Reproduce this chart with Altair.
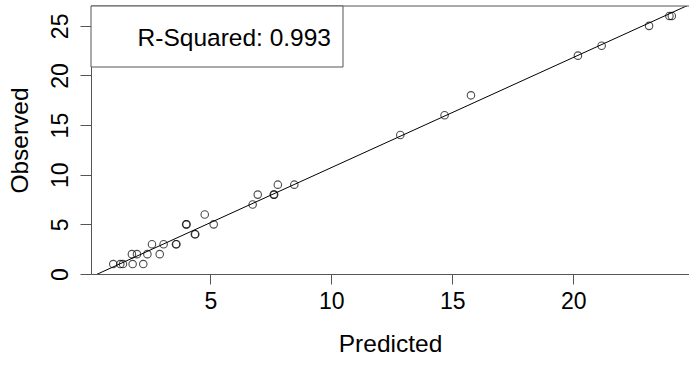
import altair as alt
import pandas as pd

# Data
predicted = [0.99, 1.28, 1.39, 1.79, 2.23,
             1.76, 1.97, 2.40, 2.91,
             2.59, 3.07, 3.58, 3.60,
             4.36, 4.38,
             4.00, 4.02, 5.14,
             4.77,
             6.75,
             6.96, 7.62, 7.64,
             7.79, 8.47,
             12.85, 14.68, 15.77, 20.19, 21.17, 23.13, 23.97, 24.07]
observed = [1, 1, 1, 1, 1,
            2, 2, 2, 2,
            3, 3, 3, 3,
            4, 4,
            5, 5, 5,
            6,
            7,
            8, 8, 8,
            9, 9,
            14, 16, 18, 22, 23, 25, 26, 26]
x_ticks = [5, 10, 15, 20]
y_ticks = [0, 5, 10, 15, 20, 25]
annotation = ["R-Squared: 0.993"]

df = pd.DataFrame({"pred": predicted, "obs": observed})
ann = pd.DataFrame({"label": annotation})

FONT = "Liberation Sans"
W, H = 598, 268
XDOM = [0.07, 24.78]
YDOM = [0, 27]
LINE = "#555555"

xenc = alt.X("pred:Q", scale=alt.Scale(domain=XDOM, nice=False, zero=False),
             axis=alt.Axis(values=x_ticks, title="Predicted", grid=False,
                           labelFontSize=23, titleFontSize=24.5,
                           labelPadding=6, tickSize=10,
                           titleY=77, titleBaseline="alphabetic",
                           titleFontWeight="normal"))
yenc = alt.Y("obs:Q", scale=alt.Scale(domain=YDOM, nice=False, zero=False),
             axis=alt.Axis(values=y_ticks, title="Observed", grid=False,
                           labelFontSize=23, titleFontSize=24.5,
                           labelAngle=270, labelAlign="center",
                           labelBaseline="alphabetic", labelPadding=13,
                           tickSize=11,
                           titleAngle=270, titleX=-64, titleY=134,
                           titleAlign="center", titleBaseline="alphabetic",
                           titleFontWeight="normal"))

points = alt.Chart(df).mark_point(shape="circle", filled=False, color="black",
                                  strokeWidth=1.1, size=56).encode(x=xenc, y=yenc)

line = alt.Chart(df).transform_regression(
    "pred", "obs", extent=XDOM
).mark_line(color="black", strokeWidth=1, clip=True).encode(
    x=alt.X("pred:Q"), y=alt.Y("obs:Q"))

top_border = alt.Chart(ann).mark_rule(color=LINE, strokeWidth=1).encode(
    x=alt.value(0), x2=alt.value(W), y=alt.value(0))

box = alt.Chart(ann).mark_rect(fill="white", stroke=LINE, strokeWidth=1).encode(
    x=alt.value(0), x2=alt.value(252), y=alt.value(0), y2=alt.value(61))

label = alt.Chart(ann).mark_text(font=FONT, fontSize=24.5, color="black",
                                 align="right", baseline="alphabetic").encode(
    x=alt.value(240), y=alt.value(40), text="label:N")

chart = alt.layer(line, points, top_border, box, label).properties(
    width=W, height=H,
    autosize=alt.AutoSizeParams(type="none"),
    padding={"left": 91, "top": 6, "right": 0, "bottom": 91},
    background="white",
).configure_view(stroke=None).configure_axis(
    labelFont=FONT, titleFont=FONT, labelColor="black", titleColor="black",
    domainColor=LINE, tickColor=LINE, domainWidth=1, tickWidth=1,
)

chart.save("out.html", embed_options={"renderer": "svg", "actions": False})
